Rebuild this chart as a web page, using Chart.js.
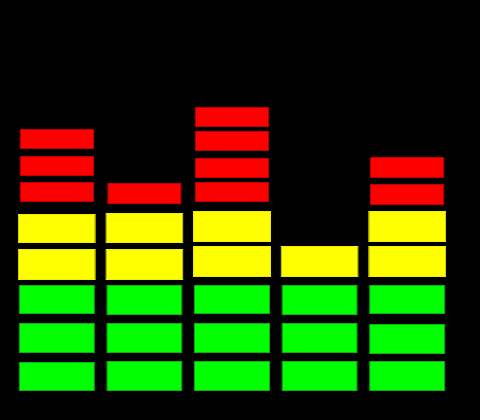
<!DOCTYPE html>
<html>
<head>
<meta charset="utf-8">
<script src="https://cdn.jsdelivr.net/npm/chart.js@4/dist/chart.umd.min.js"></script>
<style>
  html, body { margin: 0; padding: 0; background: #000; }
  #wrap { width: 480px; height: 420px; }
</style>
</head>
<body>
<div id="wrap"><canvas id="c" width="480" height="420"></canvas></div>
<script>
// Columns of the level meter
const categories = ['1', '2', '3', '4', '5'];

// Each block row: [bottom, top] level per column (null = block off)
const green1  = [[0, 29],   [0, 30],   [0, 30],   [0, 30],   [0, 30]];
const green2  = [[38, 68],  [38, 68],  [38, 68],  [38, 68],  [37, 67]];
const green3  = [[77, 106], [76, 106], [77, 106], [76, 106], [77, 106]];
const yellow1 = [[111, 142],[111, 142],[114, 145],[114, 145],[114, 145]];
const yellow2 = [[148, 177],[148, 178],[149, 180], null,     [149, 180]];
const red1    = [[189, 209],[187, 208],[189, 209], null,     [186, 207]];
const red2    = [[215, 235], null,     [213, 233], null,     [213, 234]];
const red3    = [[242, 262], null,     [240, 260], null,     null];
const red4    = [null,       null,     [264, 284], null,     null];

const GREEN = '#00ff00', GREEN_EDGE = '#10b010';
const YELLOW = '#ffff00', YELLOW_EDGE = '#f0f000';
const RED = '#ff0000', RED_EDGE = '#c00000';

function block(data, fill, edge, pct) {
  return {
    data: data,
    backgroundColor: fill,
    borderColor: edge,
    borderWidth: 1,
    borderSkipped: false,
    grouped: false,
    categoryPercentage: 1.0,
    barPercentage: pct
  };
}

const bgPlugin = {
  id: 'bg',
  beforeDraw(chart) {
    const ctx = chart.ctx;
    ctx.save();
    ctx.fillStyle = '#000';
    ctx.fillRect(0, 0, chart.width, chart.height);
    ctx.restore();
  }
};

new Chart(document.getElementById('c'), {
  type: 'bar',
  data: {
    labels: categories,
    datasets: [
      block(green1, GREEN, GREEN_EDGE, 0.87),
      block(green2, GREEN, GREEN_EDGE, 0.87),
      block(green3, GREEN, GREEN_EDGE, 0.87),
      block(yellow1, YELLOW, YELLOW_EDGE, 0.89),
      block(yellow2, YELLOW, YELLOW_EDGE, 0.89),
      block(red1, RED, RED_EDGE, 0.85),
      block(red2, RED, RED_EDGE, 0.85),
      block(red3, RED, RED_EDGE, 0.85),
      block(red4, RED, RED_EDGE, 0.85)
    ]
  },
  options: {
    responsive: false,
    animation: false,
    devicePixelRatio: 1,
    layout: { padding: { left: 13, right: 29, top: 0, bottom: 29 } },
    plugins: { legend: { display: false }, tooltip: { enabled: false } },
    scales: {
      x: { display: false },
      y: { display: false, min: 0, max: 391 }
    }
  },
  plugins: [bgPlugin]
});
</script>
</body>
</html>
